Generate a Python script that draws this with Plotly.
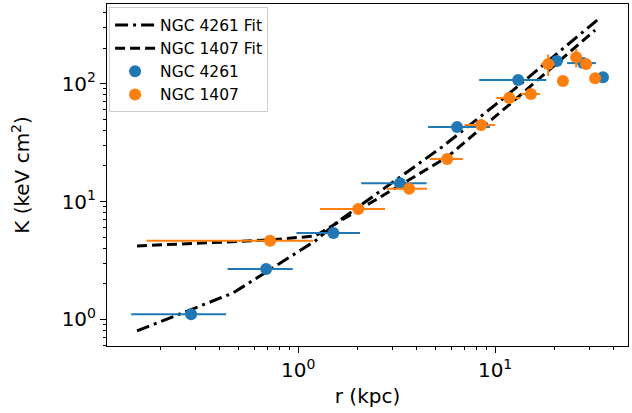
import plotly.graph_objects as go
import numpy as np

# NGC 4261 data
r_4261 = [0.286, 0.688, 1.51, 3.29, 6.41, 13.1, 20.6, 28.0, 35.3]
k_4261 = [1.11, 2.68, 5.41, 14.3, 42.7, 107, 155, 149, 113]
rerr_lo_4261 = [0.144, 0.25, 0.53, 1.2, 1.84, 4.8, 1.5, 4.8, 1.5]
rerr_hi_4261 = [0.145, 0.25, 0.55, 1.2, 3.0, 5.1, 1.5, 4.5, 1.5]
kerr_4261 = [0.05, 0.1, 0.2, 0.6, 2.0, 6, 15, 8, 5]

# NGC 1407 data
r_1407 = [0.72, 2.02, 3.66, 5.71, 8.5, 11.8, 15.2, 18.6, 22.1, 25.8, 29.0, 32.2]
k_1407 = [4.65, 8.63, 12.8, 22.9, 44.5, 75.4, 81.5, 146, 105, 167, 146, 111]
rerr_lo_1407 = [0.55, 0.73, 0.85, 1.05, 1.5, 1.65, 1.7, 1.5, 1.0, 1.0, 1.0, 1.0]
rerr_hi_1407 = [0.47, 0.74, 0.85, 1.15, 1.5, 1.65, 1.7, 1.5, 1.0, 1.0, 1.0, 1.0]
kerr_1407 = [0.2, 0.4, 0.6, 1.0, 2.5, 4, 5, 30, 5, 30, 10, 5]

# Fit curves
fit_r_4261 = [0.152, 0.468, 1.22, 1.58, 5.38, 10.6, 33.0]
fit_k_4261 = [0.80, 1.68, 4.63, 6.7, 29.0, 71.0, 345.0]
fit_r_1407 = [0.152, 0.72, 1.22, 1.58, 2.61, 5.71, 11.9, 32.2]
fit_k_1407 = [4.2, 4.72, 5.1, 6.6, 10.9, 23.8, 67.0, 284.0]

x_ticks = [1, 10]
x_ticktext = ["10<sup>0</sup>", "10<sup>1</sup>"]
y_ticks = [1, 10, 100]
y_ticktext = ["10<sup>0</sup>", "10<sup>1</sup>", "10<sup>2</sup>"]

blue = "#1f77b4"
orange = "#ff7f0e"

fig = go.Figure()
fig.add_trace(go.Scatter(x=fit_r_4261, y=fit_k_4261, mode="lines", name="NGC 4261 Fit",
                         line=dict(color="black", width=3, dash="13px,5px,3px,5px")))
fig.add_trace(go.Scatter(x=fit_r_1407, y=fit_k_1407, mode="lines", name="NGC 1407 Fit",
                         line=dict(color="black", width=3, dash="10px,5px")))
fig.add_trace(go.Scatter(x=r_4261, y=k_4261, mode="markers", name="NGC 4261",
                         marker=dict(color=blue, size=12),
                         error_x=dict(type="data", symmetric=False, array=rerr_hi_4261,
                                      arrayminus=rerr_lo_4261, color=blue, thickness=2, width=0),
                         error_y=dict(type="data", array=kerr_4261, color=blue, thickness=2, width=0)))
fig.add_trace(go.Scatter(x=r_1407, y=k_1407, mode="markers", name="NGC 1407",
                         marker=dict(color=orange, size=12),
                         error_x=dict(type="data", symmetric=False, array=rerr_hi_1407,
                                      arrayminus=rerr_lo_1407, color=orange, thickness=2, width=0),
                         error_y=dict(type="data", array=kerr_1407, color=orange, thickness=2, width=0)))

def minor_vals(lo, hi):
    vals = []
    for d in range(lo, hi + 1):
        for m in range(2, 10):
            vals.append(m * 10 ** d)
    return vals

fig.update_layout(
    width=632, height=413,
    margin=dict(l=107, r=4, t=4, b=67, autoexpand=False),
    plot_bgcolor="white", paper_bgcolor="white",
    font=dict(family="DejaVu Sans", color="black"),
    showlegend=True,
    legend=dict(x=0.004, y=0.99, xanchor="left", yanchor="top",
                bgcolor="rgba(255,255,255,0.8)", bordercolor="#cccccc", borderwidth=1,
                font=dict(size=15.5), tracegroupgap=0, itemwidth=40),
    xaxis=dict(type="log", range=[np.log10(0.107), np.log10(47.3)], automargin=False,
               tickvals=x_ticks, ticktext=x_ticktext, tickfont=dict(size=20),
               ticks="outside", ticklen=6, tickwidth=1, tickcolor="black",
               showline=True, mirror=True, linecolor="black", linewidth=1,
               showgrid=False, zeroline=False,
               minor=dict(tickvals=minor_vals(-1, 1), ticks="outside", ticklen=3,
                          tickwidth=1, tickcolor="black", showgrid=False),
               title=dict(text="r (kpc)", font=dict(size=20), standoff=7)),
    yaxis=dict(type="log", range=[np.log10(0.596), np.log10(472)], automargin=False,
               tickvals=y_ticks, ticktext=y_ticktext, tickfont=dict(size=20),
               ticks="outside", ticklen=6, tickwidth=1, tickcolor="black",
               showline=True, mirror=True, linecolor="black", linewidth=1,
               showgrid=False, zeroline=False,
               minor=dict(tickvals=minor_vals(-1, 2), ticks="outside", ticklen=3,
                          tickwidth=1, tickcolor="black", showgrid=False),
               title=dict(text="K (keV cm<sup>2</sup>)", font=dict(size=20), standoff=26)),
)

fig.write_html("out.html", config={"displayModeBar": False},
               post_script="document.body.style.margin='0';")
